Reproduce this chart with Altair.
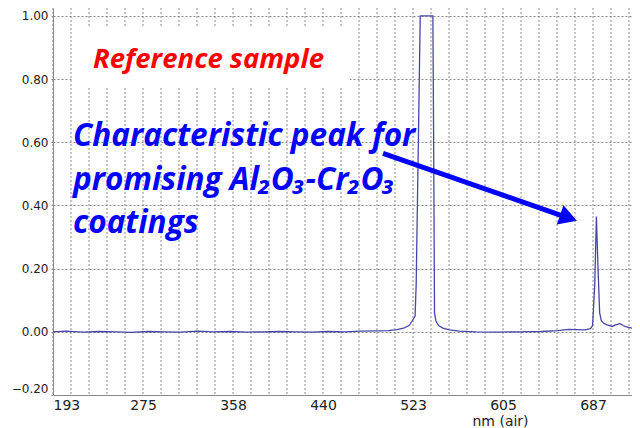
import altair as alt
import pandas as pd

# ---------------- data ----------------
wavelength_nm = [193, 205, 220, 235, 250, 265, 280, 295, 310, 325, 340, 355, 370, 385,
                 400, 415, 430, 445, 460, 475, 490, 500, 508, 514, 519, 522, 524.5,
                 525.5, 527.5, 529.2, 535, 540.8, 541.5, 542.3, 543.5, 546, 550, 556,
                 565, 580, 600, 620, 640, 655, 665, 672, 680, 685, 687, 689, 690.5,
                 692, 693.5, 695, 697, 700, 702, 705, 708, 712, 715, 718, 723, 730]
absorbance = [0.000, 0.002, -0.001, 0.001, 0.000, -0.002, 0.001, 0.000, -0.001, 0.002,
              0.000, 0.001, -0.001, 0.000, 0.001, 0.000, -0.001, 0.001, 0.000, 0.002,
              0.003, 0.004, 0.007, 0.012, 0.020, 0.035, 0.050,
              0.150, 0.600, 1.000, 1.000, 1.000, 0.600, 0.060, 0.035, 0.020, 0.012, 0.006,
              0.002, 0.000, -0.001, 0.000, 0.001, 0.004, 0.008, 0.007, 0.006, 0.010,
              0.020, 0.150, 0.365,
              0.200, 0.060, 0.035, 0.028, 0.022, 0.020, 0.017, 0.022, 0.026, 0.020,
              0.016, 0.012, 0.009]

x_tick_values = [193, 275.4, 357.8, 440.2, 522.6, 605.0, 687.4]
x_minor_step = 16.48
y_tick_values = [-0.2, 0.0, 0.2, 0.4, 0.6, 0.8, 1.0]

ref_label = "Reference sample"
blue_lines = ["Characteristic peak for", "promising Al\u2082O\u2083-Cr\u2082O\u2083", "coatings"]

# ---------------- layout ----------------
W, H = 579, 387
XDOM = [193, 723.1]
YDOM = [-0.2, 1.025]
BLUE = "#0000ff"
RED = "#ff0000"
GRID = "#8c8c8c"

xs = alt.Scale(domain=XDOM, nice=False, zero=False)
ys = alt.Scale(domain=YDOM, nice=False, zero=False)

xaxis = alt.Axis(values=x_tick_values, format=".0f", grid=False, ticks=False,
                 labelPadding=3, labelFontSize=14, labelFont="DejaVu Sans",
                 labelColor="#222222", labelFlush=True, domainColor="#888888",
                 title="nm (air)", titleFont="DejaVu Sans", titleFontSize=14,
                 titleFontWeight="normal", titleColor="#222222", titleX=447, titleY=30,
                 titleAlign="center", titleBaseline="alphabetic")
yaxis = alt.Axis(values=y_tick_values, format=".2f", grid=True, gridDash=[2, 2],
                 gridColor=GRID, tickDash=[2, 2], tickColor=GRID, tickSize=4,
                 labelPadding=1, labelFontSize=12, labelFont="DejaVu Sans",
                 labelColor="#222222", labelFlush=True, domainColor="#888888", title=None)

def X(field):
    return alt.X(field, type="quantitative", scale=xs, axis=xaxis)

def Y(field):
    return alt.Y(field, type="quantitative", scale=ys, axis=yaxis)

spec_df = pd.DataFrame({"nm": wavelength_nm, "a": absorbance})
n_minor = int(round((XDOM[1] - XDOM[0]) / x_minor_step))
grid_df = pd.DataFrame({"nm": [XDOM[0] + x_minor_step * i for i in range(n_minor + 1)]})

vgrid = alt.Chart(grid_df).mark_rule(color=GRID, strokeDash=[2, 2], strokeWidth=1).encode(
    x=X("nm"), y=alt.value(0), y2=alt.value(H))

line = alt.Chart(spec_df).mark_line(color="#4646a8", strokeWidth=1.3, clip=True).encode(
    x=X("nm"), y=Y("a"))

box_df = pd.DataFrame({"x1": [211.3], "x2": [464.9], "y1": [0.965], "y2": [0.772]})
box = alt.Chart(box_df).mark_rect(color="white").encode(
    x=X("x1"), x2="x2", y=Y("y1"), y2="y2")

red_df = pd.DataFrame({"nm": [229.6], "v": [0.835], "t": [ref_label]})
red_text = alt.Chart(red_df).mark_text(
    color=RED, font="Open Sans", fontSize=27.5, fontStyle="italic", fontWeight="bold",
    align="left", baseline="alphabetic").encode(x=X("nm"), y=Y("v"), text="t:N")

blue_df = pd.DataFrame({"nm": [211.3, 211.3, 211.3], "v": [0.588, 0.449, 0.313], "t": blue_lines})
blue_text = alt.Chart(blue_df).mark_text(
    color=BLUE, font="Open Sans", fontSize=31.5, fontStyle="italic", fontWeight="bold",
    align="left", baseline="alphabetic").encode(x=X("nm"), y=Y("v"), text="t:N")

arrow_df = pd.DataFrame({"x1": [495.2], "y1": [0.565], "x2": [660.0], "y2": [0.366]})
arrow_line = alt.Chart(arrow_df).mark_rule(color=BLUE, strokeWidth=5).encode(
    x=X("x1"), y=Y("y1"), x2="x2", y2="y2")

head_df = pd.DataFrame({"nm": [665.0], "v": [0.361]})
arrow_head = alt.Chart(head_df).mark_point(
    shape="triangle-right", filled=True, size=420, angle=19, color=BLUE, opacity=1).encode(
    x=X("nm"), y=Y("v"))

chart = alt.layer(vgrid, line, box, red_text, blue_text, arrow_line, arrow_head).properties(
    width=W, height=H,
    autosize=alt.AutoSizeParams(type="none"),
    padding={"left": 45, "top": 0, "right": 0, "bottom": 33},
    background="white",
).configure_view(stroke=None)

chart.save("out.html", embed_options={"renderer": "svg", "actions": False})
